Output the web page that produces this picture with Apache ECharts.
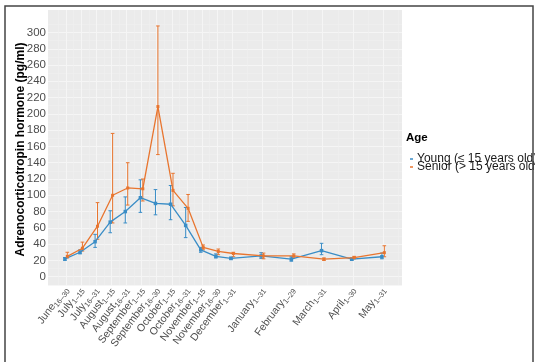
<!DOCTYPE html>
<html>
<head>
<meta charset="utf-8">
<script src="https://cdn.jsdelivr.net/npm/echarts@6/dist/echarts.min.js"></script>
<style>
html,body{margin:0;padding:0;background:#fff;}
#chart{width:535px;height:362px;}
</style>
</head>
<body>
<div id="chart"></div>
<script>
// ---- data ----
const periodMonths = ['June','July','July','August','August','September','September','October','October','November','November','December','January','February','March','April','May'];
const periodDays   = ['16–30','1–15','16–31','1–15','16–31','1–15','16–30','1–15','16–31','1–15','16–30','1–31','1–31','1–29','1–31','1–30','1–31'];
// position of each period on the time axis, in half-month units
const periodPos    = [0,1,2,3,4,5,6,7,8,9,10,11,13,15,17,19,21];

const youngMean  = [22, 30, 43, 67, 80, 97, 90, 89, 63, 33, 25, 22.5, 25.5, 21.5, 32, 21.5, 24.5];
const youngLow   = [20, 28, 36, 54, 66, 79, 76, 70, 48, 30, 23, 21, 22.5, 19, 27, 20, 22];
const youngHigh  = [23.5, 33, 52, 81, 98, 119, 107, 112, 85, 36, 28, 24, 29.5, 24.5, 41, 23, 29];

const seniorMean = [25, 35, 62, 100, 109, 108, 209, 106, 84, 36, 31, 28.5, 25.5, 25.5, 21.5, 23.5, 29.5];
const seniorLow  = [23, 31.5, 46, 66, 88, 93, 150, 87, 68, 33, 27, 24.5, 22, 24, 20, 22, 24.5];
const seniorHigh = [30, 42.5, 91, 176, 140, 120, 308, 127, 101, 39, 34, 30, 29, 28, 23, 25, 38];

const yTicks      = [0,20,40,60,80,100,120,140,160,180,200,220,240,260,280,300];
const yMinorTicks = [-10,10,30,50,70,90,110,130,150,170,190,210,230,250,270,290,310];
const xMinorTicks = [-0.5,0.5,1.5,2.5,3.5,4.5,5.5,6.5,7.5,8.5,9.5,10.5,12,14,16,18,20,22];

const seriesNames = ['Young (≤ 15 years old)', 'Senior (> 15 years old)'];
const legendTitle = 'Age';
const yTitle = 'Adrenocorticotropin hormone (pg/ml)';

// ---- styles ----
const BLUE = '#3A8DC6';
const ORANGE = '#E8752F';
const DODGE = 0.08;
const FONT = 'Liberation Sans, Arial, sans-serif';
const X_MIN = -1.2, X_MAX = 22.25;
// empty guard labels at the axis ends, so that ECharts' min/max label overlap check keeps every period label
const xLabelValues = [X_MIN + 0.05].concat(periodPos, [X_MAX - 0.05]);

function pairs(pos, vals, off){ return pos.map((p,i)=>[p+off, vals[i]]); }
function errData(pos, lo, hi){ return pos.map((p,i)=>[p, lo[i], hi[i]]); }
function errRender(off, color){
  return function(params, api){
    const x = api.value(0) + off;
    const top = api.coord([x, api.value(2)]);
    const bot = api.coord([x, api.value(1)]);
    const hw = 1.8;
    const st = {stroke: color, lineWidth: 1};
    return {type:'group', children:[
      {type:'line', shape:{x1:top[0], y1:top[1], x2:bot[0], y2:bot[1]}, style:st},
      {type:'line', shape:{x1:top[0]-hw, y1:top[1], x2:top[0]+hw, y2:top[1]}, style:st},
      {type:'line', shape:{x1:bot[0]-hw, y1:bot[1], x2:bot[0]+hw, y2:bot[1]}, style:st}
    ]};
  };
}

const chart = echarts.init(document.getElementById('chart'), null, {renderer:'canvas'});
const gridPos = {left:48, top:10, width:354, height:275};
const option = {
  animation:false,
  backgroundColor:'#fff',
  textStyle:{fontFamily:FONT},
  grid:[{left:gridPos.left, top:gridPos.top, width:gridPos.width, height:gridPos.height, show:true, backgroundColor:'#EBEBEB', borderWidth:0, containLabel:false}],
  xAxis:[{
    type:'value', gridIndex:0, min:X_MIN, max:X_MAX,
    axisLine:{show:false},
    axisTick:{show:false, customValues:periodPos},
    splitLine:{show:true, lineStyle:{color:'#F5F5F5', width:1}},
    axisLabel:{
      customValues:xLabelValues, rotate:53, margin:3, hideOverlap:false,
      formatter:function(v){
        const i = periodPos.indexOf(v);
        if(i<0) return '';
        return '{m|' + periodMonths[i] + '}{s|' + periodDays[i] + '}';
      },
      rich:{
        m:{fontSize:10.5, color:'#4D4D4D', fontFamily:FONT, lineHeight:14, verticalAlign:'middle'},
        s:{fontSize:7.5, color:'#4D4D4D', fontFamily:FONT, lineHeight:7.5, verticalAlign:'bottom'}
      }
    }
  },{
    type:'value', gridIndex:0, min:X_MIN, max:X_MAX, position:'bottom',
    axisLine:{show:false}, axisLabel:{show:false},
    axisTick:{show:false, customValues:xMinorTicks},
    splitLine:{show:true, lineStyle:{color:'#F0F0F0', width:0.6}}
  }],
  yAxis:[{
    type:'value', gridIndex:0, min:-10.2, max:327.6,
    axisLine:{show:false},
    axisTick:{show:false, customValues:yTicks},
    splitLine:{show:true, lineStyle:{color:'#F5F5F5', width:1}},
    axisLabel:{customValues:yTicks, color:'#4D4D4D', fontSize:11.5, margin:2, fontFamily:FONT, showMinLabel:true, showMaxLabel:true}
  },{
    type:'value', gridIndex:0, min:-10.2, max:327.6,
    axisLine:{show:false}, axisLabel:{show:false},
    axisTick:{show:false, customValues:yMinorTicks},
    splitLine:{show:true, lineStyle:{color:'#F0F0F0', width:0.6}}
  }],
  legend:{
    orient:'vertical', left:405, top:148, itemWidth:3, itemHeight:1.5, itemGap:-4,
    icon:'rect',
    data:seriesNames,
    textStyle:{fontSize:12, color:'#1A1A1A', lineHeight:12, fontFamily:FONT, padding:[0,0,0,-1]}
  },
  series:[
    {name:'young-err', type:'custom', xAxisIndex:0, yAxisIndex:0, renderItem:errRender(-DODGE, BLUE),
      encode:{x:0, y:[1,2]}, data:errData(periodPos, youngLow, youngHigh), z:2, silent:true},
    {name:'senior-err', type:'custom', xAxisIndex:0, yAxisIndex:0, renderItem:errRender(DODGE, ORANGE),
      encode:{x:0, y:[1,2]}, data:errData(periodPos, seniorLow, seniorHigh), z:2, silent:true},
    {name:seriesNames[0], type:'line', xAxisIndex:0, yAxisIndex:0, data:pairs(periodPos, youngMean, -DODGE),
      color:BLUE, lineStyle:{color:BLUE, width:1.3}, symbol:'rect', symbolSize:3.5,
      itemStyle:{color:BLUE}, z:3},
    {name:seriesNames[1], type:'line', xAxisIndex:0, yAxisIndex:0, data:pairs(periodPos, seniorMean, DODGE),
      color:ORANGE, lineStyle:{color:ORANGE, width:1.3}, symbol:'rect', symbolSize:3,
      itemStyle:{color:ORANGE}, z:4}
  ],
  graphic:[
    {type:'text', x:20.7, y:149.5, rotation:Math.PI/2, silent:true,
      style:{text:yTitle, fontSize:12, fontWeight:'bold', fill:'#000', fontFamily:FONT, align:'center', verticalAlign:'middle'}},
    {type:'text', left:406, top:132, silent:true,
      style:{text:legendTitle, fontSize:11.5, fontWeight:'bold', fill:'#000', fontFamily:FONT}},
    {type:'rect', silent:true, z:100, shape:{x:5, y:6, width:528, height:420},
      style:{fill:null, stroke:'#444', lineWidth:1.5}}
  ]
};
chart.setOption(option);
</script>
</body>
</html>
